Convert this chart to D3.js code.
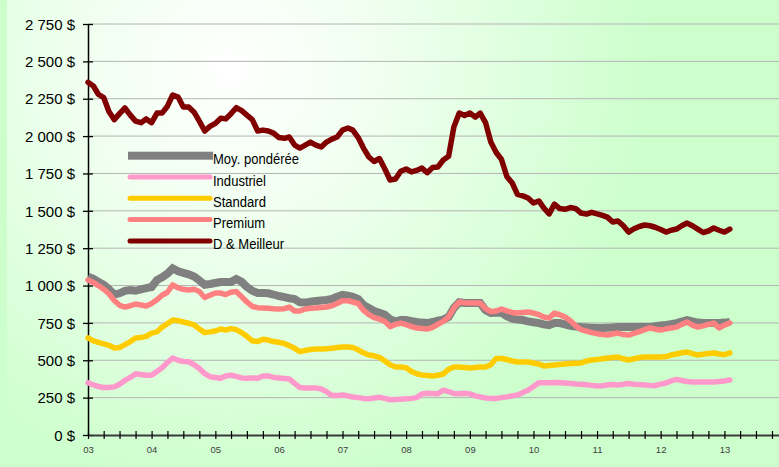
<!DOCTYPE html>
<html lang="fr">
<head>
<meta charset="UTF-8">
<title>Prix moyens</title>
<script src="https://d3js.org/d3.v7.min.js"></script>
<style>
    body { margin: 0; font-family: "Liberation Sans", Arial, sans-serif; }
    svg { display: block; }
    .ylab { font-size: 15px; fill: #000; }
    .xlab { font-size: 9.5px; fill: #404040; }
    .legend text { font-size: 15px; fill: #000; }
</style>
</head>
<body>
<div id="chart"></div>
<script>
// monthly points, Jan 2003 -> Feb 2013
const months = d3.timeMonth.range(new Date(2003, 0, 1), new Date(2013, 2, 1));

const moyPonderee = [
    1060, 1045, 1025, 1005, 975, 940, 948, 965, 970, 965,
    975, 983, 990, 1037, 1055, 1080, 1115, 1095, 1085, 1075,
    1060, 1035, 1005, 1010, 1017, 1024, 1024, 1024, 1044, 1025,
    990, 965, 950, 950, 948, 940, 930, 922, 915, 910,
    888, 886, 892, 896, 900, 903, 910, 925, 937, 932,
    925, 910, 870, 850, 830, 818, 805, 775, 760, 769,
    769, 762, 756, 752, 749, 756, 765, 772, 790, 850,
    888, 883, 883, 883, 883, 835, 816, 818, 818, 795,
    778, 772, 769, 760, 754, 749, 740, 735, 749, 749,
    740, 730, 725, 722, 720, 718, 716, 716, 718, 720,
    722, 722, 722, 722, 722, 722, 722, 728, 732, 736,
    742, 749, 758, 768, 760, 752, 749, 749, 749, 749,
    752, 756
];
const industriel = [
    350, 335, 325, 318, 318, 322, 340, 365, 385, 410,
    405, 400, 400, 425, 450, 485, 515, 500, 492, 490,
    470, 445, 410, 390, 385, 380, 395, 400, 392, 382,
    380, 382, 380, 395, 395, 385, 382, 378, 375, 345,
    318, 315, 315, 315, 308, 290, 265, 265, 268, 262,
    254, 250, 245, 243, 248, 252, 245, 236, 238, 240,
    242, 245, 250, 275, 280, 277, 276, 300, 290, 278,
    276, 280, 275, 262, 255, 248, 245, 245, 250, 255,
    262, 268, 285, 300, 325, 350, 350, 350, 352, 350,
    348, 345, 342, 340, 336, 332, 328, 330, 335, 338,
    335, 340, 345, 340, 338, 335, 332, 330, 340, 348,
    362, 372, 365, 358, 355, 355, 355, 355, 355, 358,
    362, 368
];
const standard = [
    650, 630, 620, 610, 600, 582, 585, 605, 625, 649,
    652, 660, 682, 690, 722, 745, 770, 765, 756, 748,
    736, 710, 685, 690, 696, 709, 702, 712, 705, 685,
    660, 630, 625, 640, 635, 625, 620, 612, 598, 580,
    558, 565, 572, 575, 575, 577, 580, 585, 589, 589,
    585, 570, 550, 535, 530, 520, 495, 470, 455, 455,
    450, 425, 410, 402, 398, 395, 400, 408, 440, 455,
    455, 452, 448, 452, 455, 455, 470, 512, 512, 505,
    495, 488, 488, 488, 482, 475, 462, 465, 468, 472,
    475, 478, 480, 482, 495, 502, 505, 510, 515, 518,
    522, 510, 502, 510, 518, 522, 522, 522, 522, 525,
    535, 542, 550, 555, 545, 535, 540, 545, 549, 542,
    537, 549
];
const premium = [
    1037, 1020, 1000, 975, 945, 900, 868, 856, 865, 876,
    870, 863, 880, 905, 935, 955, 1005, 985, 975, 970,
    975, 960, 920, 935, 950, 950, 940, 955, 960, 925,
    890, 860, 852, 850, 848, 845, 843, 845, 856, 830,
    830, 843, 848, 850, 853, 856, 865, 880, 898, 898,
    890, 880, 835, 805, 785, 776, 760, 725, 740, 749,
    738, 725, 716, 712, 709, 720, 740, 760, 790, 850,
    890, 885, 883, 883, 883, 845, 825, 830, 843, 830,
    820, 816, 820, 823, 816, 805, 789, 783, 816, 805,
    790, 765, 730, 705, 695, 685, 678, 672, 669, 676,
    682, 672, 669, 680, 692, 705, 716, 708, 702, 710,
    716, 722, 740, 756, 735, 722, 730, 740, 749, 716,
    735, 749
];
const dMeilleur = [
    2360, 2335, 2280, 2258, 2165, 2110, 2150, 2188, 2140, 2100,
    2090, 2115, 2090, 2154, 2154, 2200, 2275, 2261, 2194, 2194,
    2160, 2100, 2034, 2065, 2085, 2120, 2115, 2150, 2190, 2170,
    2140, 2110, 2034, 2040, 2034, 2020, 1990, 1985, 1994, 1940,
    1920, 1940, 1960, 1940, 1927, 1960, 1980, 1994, 2040, 2054,
    2040, 1990, 1920, 1860, 1830, 1850, 1780, 1706, 1713, 1765,
    1780, 1760, 1770, 1786, 1755, 1790, 1793, 1840, 1865, 2061,
    2154, 2138, 2154, 2127, 2154, 2090, 1960, 1890, 1845, 1730,
    1686, 1610, 1600, 1586, 1552, 1566, 1520, 1479, 1545, 1515,
    1510, 1522, 1515, 1485, 1478, 1490, 1480, 1470, 1458, 1425,
    1432, 1400, 1358, 1380, 1395, 1405, 1400, 1390, 1375, 1358,
    1370, 1378, 1400, 1418, 1400, 1378, 1355, 1365, 1385, 1370,
    1358, 1378
];

const seriesNames = ["Moy. pondérée", "Industriel", "Standard", "Premium", "D & Meilleur"];
const yTicks = [0, 250, 500, 750, 1000, 1250, 1500, 1750, 2000, 2250, 2500, 2750];

const W = 779, H = 467;
const series = [
    { name: seriesNames[0], values: moyPonderee, color: "#808080", width: 8, join: "miter" },
    { name: seriesNames[1], values: industriel, color: "#FF99CC", width: 5.5, join: "round" },
    { name: seriesNames[2], values: standard, color: "#FFCC00", width: 5.5, join: "round" },
    { name: seriesNames[3], values: premium, color: "#FF8080", width: 5.5, join: "round" },
    { name: seriesNames[4], values: dMeilleur, color: "#800000", width: 5.5, join: "round" }
];

const svg = d3.select("#chart").append("svg")
    .attr("width", W)
    .attr("height", H);

// background
const grad = svg.append("defs").append("radialGradient")
    .attr("id", "bg")
    .attr("gradientUnits", "userSpaceOnUse")
    .attr("cx", 230).attr("cy", 70).attr("r", 430);
grad.append("stop").attr("offset", 0).attr("stop-color", "#FFFFFF");
grad.append("stop").attr("offset", 0.35).attr("stop-color", "#F0FFF0");
grad.append("stop").attr("offset", 1).attr("stop-color", "#CCFFCC");

svg.append("rect").attr("width", W).attr("height", H).attr("fill", "#CCFFCC");
svg.append("rect").attr("x", 7).attr("width", W - 7).attr("height", H).attr("fill", "url(#bg)");

const x = d3.scaleTime()
    .domain([new Date(2003, 0, 1), new Date(2014, 0, 1)])
    .range([88, 788]);
const y = d3.scaleLinear()
    .domain([0, 2750])
    .range([435, 24]);

// gridlines
svg.append("g").selectAll("line")
    .data(yTicks.filter(d => d > 0))
    .join("line")
    .attr("x1", 88).attr("x2", W)
    .attr("y1", d => y(d)).attr("y2", d => y(d))
    .attr("stroke", "#B4B4B4")
    .attr("stroke-width", 1);

// y axis
const yAxis = svg.append("g").attr("transform", "translate(88,0)")
    .call(d3.axisLeft(y).tickValues(yTicks).tickSizeInner(5).tickSizeOuter(0)
        .tickFormat(d => d3.format(",")(d).replace(",", " ") + " $"));
yAxis.select(".domain").attr("stroke", "#000").attr("stroke-width", 1.5);
yAxis.selectAll(".tick line").clone().attr("x2", 5);
yAxis.selectAll(".tick line").attr("stroke", "#000").attr("stroke-width", 1.3);
yAxis.selectAll(".tick text").attr("class", "ylab").attr("x", -13).attr("dy", "0.35em")
    .style("font-family", "'Liberation Sans', Arial, sans-serif").style("font-size", "15px");

// x axis
const quarters = d3.timeMonth.every(3).range(new Date(2003, 0, 1), new Date(2014, 0, 2));
const xAxis = svg.append("g").attr("transform", "translate(0,435)")
    .call(d3.axisBottom(x).tickValues(quarters).tickSizeInner(4).tickSizeOuter(0)
        .tickFormat(d => d.getMonth() === 0 && d.getFullYear() < 2014 ? d3.timeFormat("%y")(d) : ""));
xAxis.select(".domain").attr("stroke", "#3a3a3a").attr("stroke-width", 2);
xAxis.selectAll(".tick line").attr("y1", -4).attr("stroke", "#000").attr("stroke-width", 1.2);
xAxis.selectAll(".tick text").attr("class", "xlab").attr("y", 11).attr("dy", "0.71em")
    .style("font-family", "'Liberation Sans', Arial, sans-serif").style("font-size", "9.5px");

// lines
const line = v => d3.line()
    .x((d, i) => x(months[i]))
    .y(d => y(d))(v);

svg.append("g").selectAll("path")
    .data(series)
    .join("path")
    .attr("d", d => line(d.values))
    .attr("fill", "none")
    .attr("stroke", d => d.color)
    .attr("stroke-width", d => d.width)
    .attr("stroke-linejoin", d => d.join)
    .attr("stroke-linecap", d => d.join === "round" ? "round" : "butt");

// legend
const legend = svg.append("g").attr("class", "legend");
series.forEach((s, i) => {
    const cy = 155.7 + i * 21.3;
    if (i === 0) {
        legend.append("rect").attr("x", 128).attr("y", cy - 4).attr("width", 85).attr("height", 8)
            .attr("fill", s.color);
    } else {
        legend.append("line").attr("x1", 130).attr("x2", 210).attr("y1", cy).attr("y2", cy)
            .attr("stroke", s.color).attr("stroke-width", 5).attr("stroke-linecap", "round");
    }
    legend.append("text")
        .attr("transform", `translate(213,${cy + 8.5}) scale(0.87,1)`)
        .text(s.name);
});
</script>
</body>
</html>
